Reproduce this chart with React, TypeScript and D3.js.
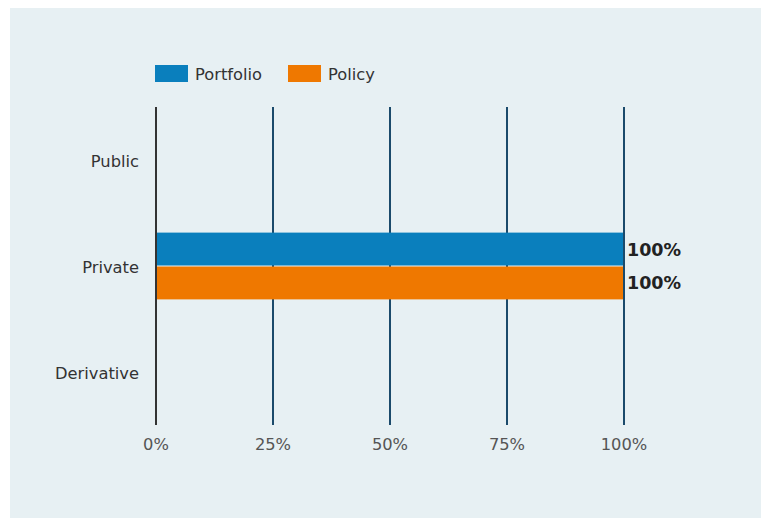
import React from "react";
import * as d3 from "d3";

const categories = ["Public", "Private", "Derivative"];
const seriesNames = ["Portfolio", "Policy"];
const portfolioValues = [0, 100, 0];
const policyValues = [0, 100, 0];
const tickValues = [0, 25, 50, 75, 100];
const colors = ["#0a7fbd", "#ef7800"];

const W = 761;
const H = 518;

export default function App() {
  const x = d3.scaleLinear().domain([0, 100]).range([156, 624]);
  const y = d3
    .scaleBand<string>()
    .domain(categories)
    .range([107, 425])
    .paddingInner(0.37)
    .paddingOuter(0.185);
  const sub = d3
    .scaleBand<string>()
    .domain(seriesNames)
    .range([0, y.bandwidth()])
    .paddingInner(0.03);
  const seriesValues = [portfolioValues, policyValues];
  const font = "'DejaVu Sans', sans-serif";

  return (
    <svg
      width={W}
      height={H}
      style={{ position: "absolute", left: 0, top: 0 }}
      fontFamily={font}
    >
      <rect x={10} y={8} width={751} height={510} fill="#e7f0f3" />
      {/* legend */}
      {seriesNames.map((s, i) => {
        const lx = i === 0 ? 155 : 288;
        return (
          <g key={s}>
            <rect x={lx} y={65} width={33} height={17} fill={colors[i]} />
            <text x={lx + 40} y={79.5} fontSize={16.3} fill="#333">
              {s}
            </text>
          </g>
        );
      })}
      {/* grid */}
      {tickValues.map((t) => (
        <g key={t}>
          <line
            x1={x(t)}
            x2={x(t)}
            y1={107}
            y2={425}
            stroke={t === 0 ? "#333333" : "#1b4a6b"}
            strokeWidth={2}
          />
          <text
            x={x(t)}
            y={450}
            fontSize={16.3}
            fill="#555"
            textAnchor="middle"
          >
            {t}%
          </text>
        </g>
      ))}
      {/* category labels */}
      {categories.map((c) => (
        <text
          key={c}
          x={139}
          y={(y(c) ?? 0) + y.bandwidth() / 2 + 7}
          fontSize={16.3}
          fill="#333"
          textAnchor="end"
        >
          {c}
        </text>
      ))}
      {/* bars */}
      {categories.map((c, ci) =>
        seriesNames.map((s, si) => {
          const v = seriesValues[si][ci];
          if (!v) return null;
          const by = (y(c) ?? 0) + (sub(s) ?? 0);
          return (
            <g key={c + s}>
              <rect
                x={x(0) + 1}
                y={by}
                width={x(v) - x(0) - 1}
                height={sub.bandwidth()}
                fill={colors[si]}
              />
              <text
                x={x(v) + 3}
                y={by + sub.bandwidth() / 2 + 6.5}
                fontSize={17.5}
                fontWeight="bold"
                fill="#222"
              >
                {v}%
              </text>
            </g>
          );
        })
      )}
      <line x1={x(100)} x2={x(100)} y1={107} y2={425} stroke="#1b4a6b" strokeWidth={2} />
    </svg>
  );
}
